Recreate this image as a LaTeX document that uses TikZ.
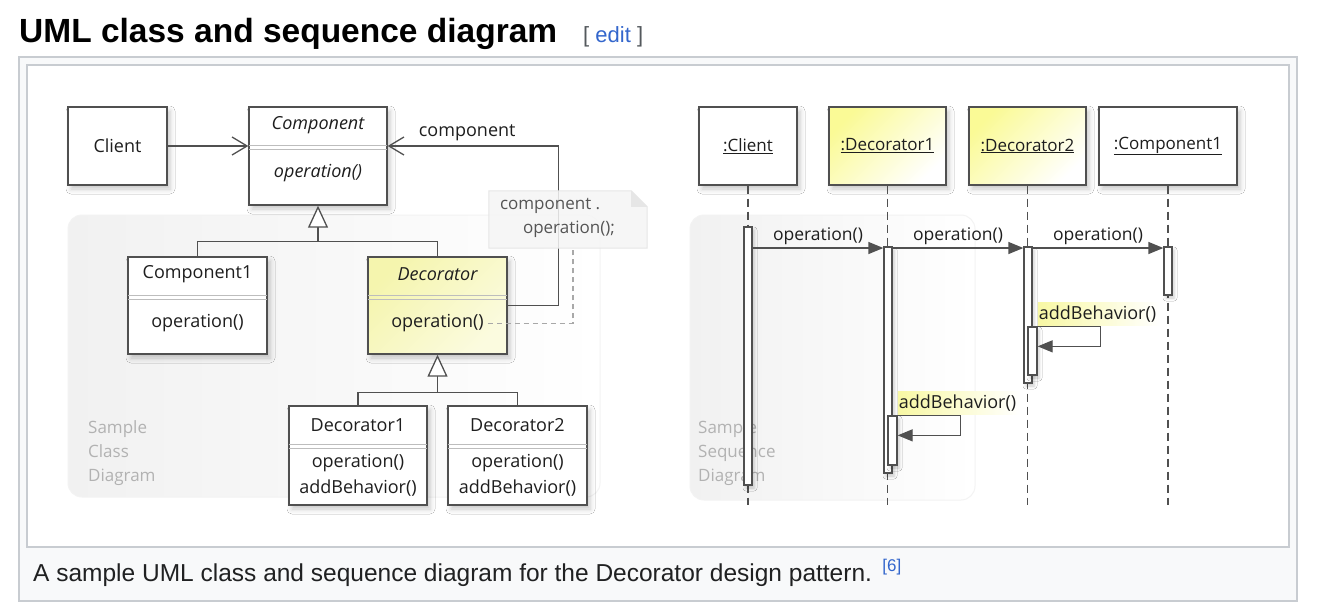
\documentclass[tikz,border=0pt]{standalone}
\usepackage{fontspec}
\setmainfont{Liberation Sans}
\newfontfamily\umlfont{Open Sans}
\usetikzlibrary{arrows.meta,calc,shadows.blur}

\definecolor{framegray}{HTML}{C8CCD1}
\definecolor{framefill}{HTML}{F8F9FA}
\definecolor{linkblue}{HTML}{3366CC}
\definecolor{bracketgray}{HTML}{54595D}
\definecolor{captionink}{HTML}{202122}
\definecolor{ink}{HTML}{505050}
\definecolor{textink}{HTML}{1E1E1E}
\definecolor{sepline}{HTML}{BDBDBD}
\definecolor{panelgray}{HTML}{F1F1F1}
\definecolor{paneledge}{HTML}{F3F3F3}
\definecolor{paneltext}{HTML}{B2B2B2}
\definecolor{notefill}{HTML}{F5F5F5}
\definecolor{noteedge}{HTML}{E6E6E6}
\definecolor{notetext}{HTML}{555555}
\definecolor{linkgray}{HTML}{A8A8A8}
\definecolor{decyellow}{HTML}{F5F5AE}
\definecolor{decpale}{HTML}{FBFBDF}
\definecolor{seqyellow}{HTML}{FAFA96}
\definecolor{hlyellow}{HTML}{F8F8A4}

\tikzset{
  umltext/.style={font=\umlfont\fontsize{18}{22}\selectfont, text=textink, inner sep=0pt},
  umlital/.style={font=\umlfont\itshape\fontsize{18}{22}\selectfont, text=textink, inner sep=0pt},
  seqtext/.style={font=\umlfont\fontsize{17}{21}\selectfont, text=textink, inner sep=0pt},
  boxshadow/.style={blur shadow={shadow xshift=3pt, shadow yshift=-4pt, shadow blur radius=5pt, shadow opacity=22}},
  barshadow/.style={blur shadow={shadow xshift=2pt, shadow yshift=-3pt, shadow blur radius=3pt, shadow opacity=20}},
  umlbox/.style={draw=ink, line width=1.4pt, fill=white, inner sep=0pt, boxshadow},
  yellowbox/.style={draw=ink, line width=1.4pt, inner sep=0pt, left color=decyellow, right color=decpale, shading angle=45, boxshadow},
  headbox/.style={draw=ink, line width=1.4pt, inner sep=0pt, left color=seqyellow, right color=white, shading angle=45, boxshadow},
  seplines/.style={draw=sepline, line width=1pt},
  edge/.style={draw=ink, line width=1.4pt},
  assoc/.style={edge, -{Straight Barb[length=15pt, width=18pt, line width=1.3pt]}},
  gen/.style={edge, -{Triangle[open, length=22pt, width=20pt, line width=1.3pt, fill=white]}},
  notelink/.style={draw=linkgray, line width=1.2pt, dash pattern=on 5pt off 4pt},
  notetxt/.style={font=\umlfont\fontsize{17}{24}\selectfont, text=notetext, inner sep=0pt},
  panel/.style={rounded corners=14pt, draw=paneledge, line width=1pt, left color=panelgray, middle color=white, right color=white},
  paneltxt/.style={font=\umlfont\fontsize{17}{24}\selectfont, text=paneltext, inner sep=0pt, align=left},
  lifeline/.style={draw=ink, line width=1.3pt, dash pattern=on 8pt off 5pt},
  actbar/.style={draw=ink, line width=1.3pt, fill=white, minimum width=8pt, inner sep=0pt, barshadow},
  nestbar/.style={actbar, minimum width=9pt},
  msg/.style={draw=ink, line width=1.3pt, -{Triangle[length=15pt, width=12pt]}},
  msglabel/.style={seqtext, font=\umlfont\fontsize{17.5}{21}\selectfont, above=3pt},
  hilite/.style={seqtext, font=\umlfont\fontsize{18}{22}\selectfont, inner xsep=1pt, inner ysep=3pt, left color=hlyellow, right color=white}
}

\begin{document}
\begin{tikzpicture}[x=1pt,y=-1pt]
\useasboundingbox (0,0) rectangle (1320,610);

% ---------- heading and figure frame ----------
\node[anchor=base west, inner sep=0pt, font=\bfseries\fontsize{33.5}{38}\selectfont] (heading) at (19,43) {UML class and sequence diagram};
\node[anchor=base west, inner sep=0pt, font=\fontsize{22}{26}\selectfont, text=bracketgray] (editlink) at (583,43) {[ \textcolor{linkblue}{edit} ]};

\draw[framegray, fill=framefill, line width=1.5pt] (19,57) rectangle (1297,601);
\draw[framegray, fill=white, line width=1.5pt] (27,65) rectangle (1289,547);

\node[anchor=base west, inner sep=0pt, font=\fontsize{24.5}{28}\selectfont, text=captionink] (caption) at (33,581) {A sample UML class and sequence diagram for the Decorator design pattern.};
\node[anchor=base west, inner sep=0pt, font=\fontsize{17}{20}\selectfont, text=linkblue] (citeref) at ($(caption.base east)+(10,-10)$) {[6]};

% ---------- background panels ----------
\path[panel] (68,215) rectangle (600,497);
\path[panel] (690,215) rectangle (975,500);
\node[paneltxt, anchor=west] (classcap) at (88,453) {Sample\\Class\\Diagram};
\node[paneltxt, anchor=west] (seqcap) at (698,453) {Sample\\Sequence\\Diagram};

% ================= class diagram =================
\node[umlbox, minimum width=99pt, minimum height=78pt, umltext] (client) at (117.5,146) {Client};

\node[umlbox, minimum width=138pt, minimum height=98pt] (comp) at (318,156) {};
\node[umlital] (compname) at ($(comp.north)+(0,19)$) {Component};
\node[umlital] (compop) at ($(comp.north)+(0,67)$) {operation()};

\node[umlbox, minimum width=139pt, minimum height=97pt] (c1) at (197.5,305.5) {};
\node[umltext] (c1name) at ($(c1.north)+(0,18)$) {Component1};
\node[umltext] (c1op) at ($(c1.north)+(0,67)$) {operation()};

% generalization Component <- Component1, Decorator (drawn before Decorator box)
\coordinate (gjoin) at ($(comp.south)+(0,36)$);
\draw[edge] (c1.north) |- (gjoin);
\draw[gen] (gjoin) -- (comp.south);

\node[yellowbox, minimum width=139pt, minimum height=97pt] (dec) at (437.5,305.5) {};
\node[umlital] (decname) at ($(dec.north)+(0,18)$) {Decorator};
\node[umltext] (decop) at ($(dec.north)+(0,67)$) {operation()};
\draw[edge] (gjoin) -| (dec.north);

\node[umlbox, minimum width=138pt, minimum height=99pt] (d1) at (358,455.5) {};
\node[umltext] (d1name) at ($(d1.north)+(0,20)$) {Decorator1};
\node[umltext] (d1op) at ($(d1.north)+(0,58)$) {operation()};
\node[umltext] (d1add) at ($(d1.north)+(0,83)$) {addBehavior()};

\node[umlbox, minimum width=139pt, minimum height=99pt] (d2) at (517.5,455.5) {};
\node[umltext] (d2name) at ($(d2.north)+(0,20)$) {Decorator2};
\node[umltext] (d2op) at ($(d2.north)+(0,58)$) {operation()};
\node[umltext] (d2add) at ($(d2.north)+(0,83)$) {addBehavior()};

% compartment separators
\foreach \b in {comp,c1,dec,d1,d2}{
  \draw[seplines] ($(\b.north west)+(1,39)$) -- ($(\b.north east)+(-1,39)$);
  \draw[seplines] ($(\b.north west)+(1,43)$) -- ($(\b.north east)+(-1,43)$);
}

% generalization Decorator <- Decorator1, Decorator2
\coordinate (gjoin2) at ($(dec.south)+(0,38)$);
\draw[edge] (d1.north) |- (gjoin2) -| (d2.north);
\draw[gen] (gjoin2) -- (dec.south);

% associations
\draw[assoc] (client.east) -- (client.east -| comp.west);
\draw[assoc] (dec.east) -- ++(51,0) |- ($(comp.east)+(0,-10)$);
\node[umltext, anchor=west] (assoclabel) at ($(comp.east)+(31,-23)$) {component};

% note attached to Decorator.operation()
\node[minimum width=158pt, minimum height=57pt, inner sep=0pt] (note) at (568,219.5) {};
\fill[notefill, fill opacity=0.85] (note.north west) -- ($(note.north east)+(-16,0)$) -- ($(note.north east)+(0,16)$) -- (note.south east) -- (note.south west) -- cycle;
\draw[noteedge, line width=1pt] (note.north west) -- ($(note.north east)+(-16,0)$) -- ($(note.north east)+(0,16)$) -- (note.south east) -- (note.south west) -- cycle;
\fill[noteedge] ($(note.north east)+(-16,0)$) -- ($(note.north east)+(0,16)$) -- ($(note.north east)+(-16,16)$) -- cycle;
\node[notetxt, anchor=north west, align=left] (notetext) at ($(note.north west)+(11,7)$) {component .\\\hspace*{23pt}operation();};
\draw[notelink] ($(decop.east)+(4,0)$) -| ($(note.south)+(5,0)$);

% ================= sequence diagram =================
\node[umlbox, minimum width=98pt, minimum height=78pt, seqtext] (oclient) at (748,146) {\underline{:Client}};
\node[headbox, minimum width=117pt, minimum height=78pt, seqtext] (odec1) at (887.5,146) {\underline{:Decorator1}};
\node[headbox, minimum width=117pt, minimum height=78pt, seqtext] (odec2) at (1027.5,146) {\underline{:Decorator2}};
\node[umlbox, minimum width=138pt, minimum height=78pt, seqtext] (ocomp) at (1168,146) {\underline{:Component1}};

\coordinate (seqend) at (0,505);
\foreach \o in {oclient,odec1,odec2,ocomp}{
  \draw[lifeline] (\o.south) -- (\o.south |- seqend);
}

% activations
\node[actbar, minimum height=258pt] (bclient) at (748,356) {};
\node[actbar, minimum height=226pt] (bdec1) at (888,360) {};
\node[actbar, minimum height=136pt] (bdec2) at (1028,315) {};
\node[actbar, minimum height=48pt] (bcomp) at (1168,271) {};
\node[nestbar, minimum height=48pt] (ndec2) at (1032.5,351) {};
\node[nestbar, minimum height=49pt] (ndec1) at (892.5,440.5) {};

% calls
\coordinate (callrow) at (0,248);
\draw[msg] (bclient.east |- callrow) -- node[msglabel] (m1) {operation()} (bdec1.west |- callrow);
\draw[msg] (bdec1.east |- callrow) -- node[msglabel] (m2) {operation()} (bdec2.west |- callrow);
\draw[msg] (bdec2.east |- callrow) -- node[msglabel] (m3) {operation()} (bcomp.west |- callrow);

% self calls
\node[hilite, anchor=south west] (ab2) at ($(ndec2.north east)+(0,-1)$) {addBehavior()\hspace*{3pt}};
\draw[msg] (ndec2.north east) -- ++(63,0) |- ($(ndec2.north east)+(0,20)$);
\node[hilite, anchor=south west] (ab1) at ($(ndec1.north east)+(0,-1)$) {addBehavior()\hspace*{3pt}};
\draw[msg] (ndec1.north east) -- ++(63,0) |- ($(ndec1.north east)+(0,20)$);

\end{tikzpicture}
\end{document}
